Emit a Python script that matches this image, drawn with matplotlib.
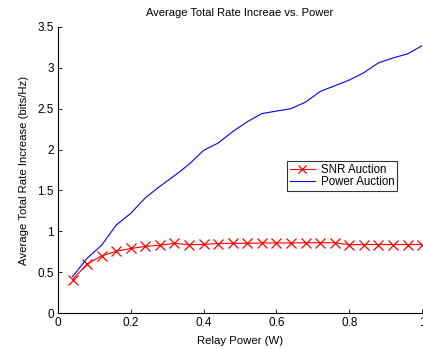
import matplotlib
matplotlib.use("Agg")
import matplotlib.pyplot as plt
import numpy

plt.rcParams['font.family'] = ['Liberation Sans', 'DejaVu Sans']

# relay power (W)
relay_power = [0.04, 0.08, 0.12, 0.16, 0.20, 0.24, 0.28, 0.32, 0.36, 0.40,
               0.44, 0.48, 0.52, 0.56, 0.60, 0.64, 0.68, 0.72, 0.76, 0.80,
               0.84, 0.88, 0.92, 0.96, 1.00]
# average total rate increase (bits/Hz)
snr_auction = [0.41, 0.60, 0.70, 0.755, 0.79, 0.815, 0.83, 0.853, 0.836, 0.84,
               0.85, 0.853, 0.853, 0.857, 0.857, 0.857, 0.86, 0.86, 0.86, 0.835,
               0.838, 0.838, 0.838, 0.838, 0.838]
power_auction = [0.445, 0.67, 0.83, 1.077, 1.22, 1.41, 1.55, 1.68, 1.82, 1.99,
                 2.08, 2.22, 2.34, 2.44, 2.47, 2.50, 2.58, 2.71, 2.78, 2.85,
                 2.94, 3.06, 3.12, 3.17, 3.27]

fig = plt.figure(figsize=(4.23, 3.49), dpi=100)
ax = fig.add_axes([0.137, 0.103, 0.861, 0.820])

ax.plot(relay_power, snr_auction, color='red', marker='x', markersize=7,
        linewidth=0.8, markeredgewidth=0.9, label='SNR Auction')
ax.plot(relay_power, power_auction, color='blue', linewidth=0.8,
        label='Power Auction')

ax.set_xlim(0, 1)
ax.set_ylim(0, 3.5)
ax.set_xticks([0, 0.2, 0.4, 0.6, 0.8, 1])
ax.set_xticklabels(['0', '0.2', '0.4', '0.6', '0.8', '1'])
ax.set_yticks(numpy.arange(0, 3.51, 0.5))
ax.set_yticklabels(['0', '0.5', '1', '1.5', '2', '2.5', '3', '3.5'])
ax.tick_params(labelsize=8.5, direction='in', length=3, width=0.6, pad=3)

for side in ['top', 'right']:
    ax.spines[side].set_visible(False)
for side in ['left', 'bottom']:
    ax.spines[side].set_linewidth(0.8)

ax.set_title('Average Total Rate Increae vs. Power', fontsize=8, pad=8)
ax.set_xlabel('Relay Power (W)', fontsize=8.2, labelpad=5)
ax.set_ylabel('Average Total Rate Increase (bits/Hz)', fontsize=8.2, labelpad=6)

leg = ax.legend(loc='upper left', bbox_to_anchor=(0.630, 0.530), fontsize=8.3,
                frameon=True, fancybox=False, borderpad=0.2,
                handlelength=2.2, handletextpad=0.5, labelspacing=0.05,
                borderaxespad=0, markerscale=0.8)
leg.get_frame().set_edgecolor('black')
leg.get_frame().set_linewidth(0.8)

fig.savefig('out.png', dpi=100)
